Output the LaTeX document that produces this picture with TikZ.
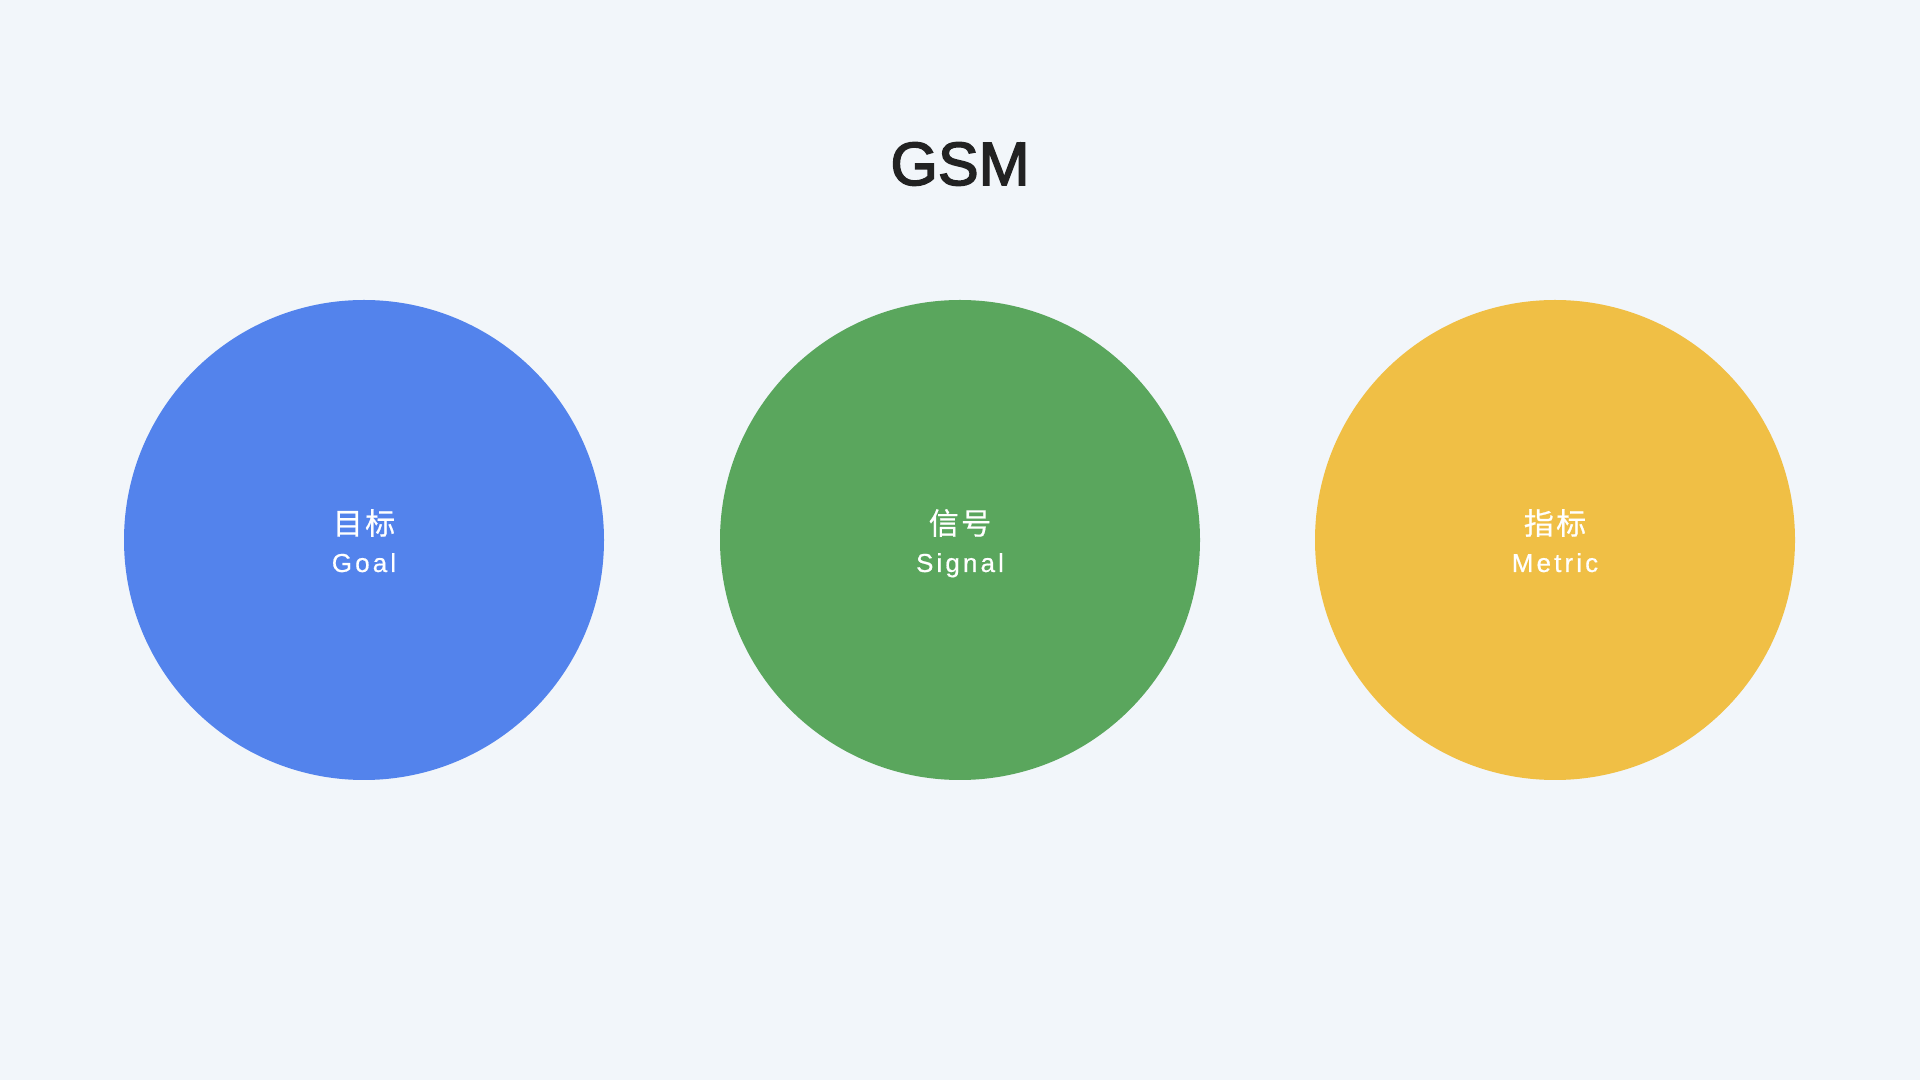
\documentclass[tikz,border=0pt]{standalone}
\usepackage{fontspec}
\setmainfont{Liberation Sans}
\newfontfamily\cjk{Noto Sans CJK SC}
\newfontfamily\latinsp[LetterSpace=12,FakeBold=0.6]{Liberation Sans}
\newfontfamily\cjksp[LetterSpace=8,FakeBold=0.6]{Noto Sans CJK SC}
\newfontfamily\titlefont[FakeBold=2.6]{Liberation Sans}
\definecolor{bgc}{HTML}{F2F6FA}
\definecolor{goalc}{HTML}{5383EC}
\definecolor{signalc}{HTML}{5AA65D}
\definecolor{metricc}{HTML}{F0BF45}
\definecolor{titlec}{HTML}{222222}
\tikzset{
  bubble/.style={circle, minimum size=480pt, inner sep=0pt, draw=none},
  zhlabel/.style={text=white, font=\cjksp\fontsize{30}{36}\selectfont, inner sep=0pt, anchor=center},
  enlabel/.style={text=white, font=\latinsp\fontsize{26}{30}\selectfont, inner sep=0pt, anchor=base},
  titletext/.style={text=titlec, font=\titlefont\fontsize{61}{70}\selectfont, inner sep=0pt, anchor=base}
}
\begin{document}
\begin{tikzpicture}[x=1pt,y=1pt]
\fill[bgc] (0,0) rectangle (1920,1080);
\useasboundingbox (0,0) rectangle (1920,1080);
\node[titletext] (title) at (960,895) {GSM};
\node[bubble, fill=goalc] (goal) at (364,540) {};
\node[bubble, fill=signalc] (signal) at (960,540) {};
\node[bubble, fill=metricc] (metric) at (1555,540) {};
\node[zhlabel] (goalzh) at (364,557) {目标};
\node[enlabel] (goalen) at (364,508) {Goal};
\node[zhlabel] (signalzh) at (960,557) {信号};
\node[enlabel] (signalen) at (960,508) {Signal};
\node[zhlabel] (metriczh) at (1555,557) {指标};
\node[enlabel] (metricen) at (1555,508) {Metric};
\end{tikzpicture}
\end{document}
